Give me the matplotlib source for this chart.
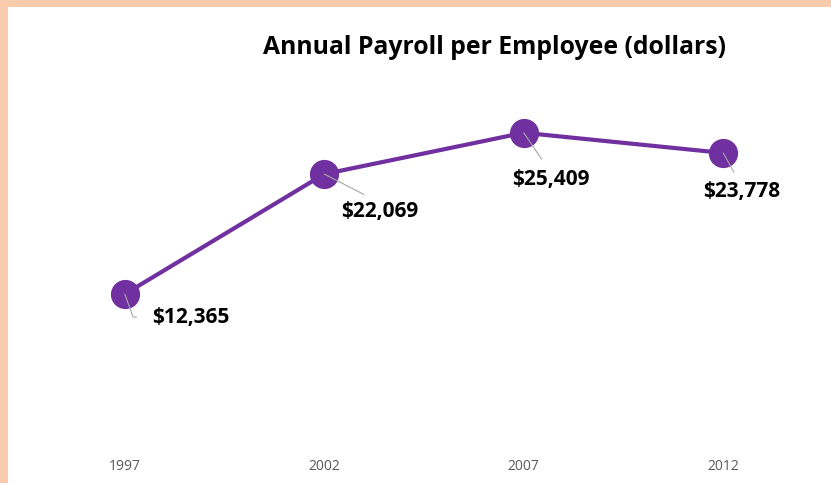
import matplotlib
matplotlib.use('Agg')
import matplotlib.pyplot as plt
from matplotlib.patches import Rectangle

# ---- data ----
years = ['1997', '2002', '2007', '2012']
payroll = [12365, 22069, 25409, 23778]
labels = ['$12,365', '$22,069', '$25,409', '$23,778']

PURPLE = '#7030A0'
PEACH = '#F8CBAD'

fig = plt.figure(figsize=(8.31, 4.83), dpi=100)
fig.patch.set_facecolor('white')

# peach frame on left and top edge
fig.add_artist(Rectangle((0, 0), 8 / 831, 1, transform=fig.transFigure,
                         facecolor=PEACH, edgecolor='none', zorder=0))
fig.add_artist(Rectangle((0, 1 - 7 / 483), 1, 7 / 483, transform=fig.transFigure,
                         facecolor=PEACH, edgecolor='none', zorder=0))

ax = fig.add_axes([25 / 831, 36 / 483, 798 / 831, 371 / 483])
x = list(range(len(years)))
ax.plot(x, payroll, color=PURPLE, lw=3, marker='o', markersize=20,
        markerfacecolor=PURPLE, markeredgecolor=PURPLE, zorder=3)

ax.set_xlim(-0.5, len(years) - 0.5)
ax.set_ylim(0, 30000)
ax.set_xticks(x)
ax.set_xticklabels(years, fontsize=10, color='#595959', family='Open Sans')
ax.set_yticks([])
ax.tick_params(axis='x', length=0, pad=9)
for s in ax.spines.values():
    s.set_visible(False)

# label offsets in pixels (text left/top) and leader attach point
offsets = [(27, -23), (17, -27), (-12, -36), (-20, -28)]
relpos = [(0, 0.5), (0.46, 1.0), (0.47, 1.0), (0.46, 1.0)]
conn = ['angle,angleA=180,angleB=110,rad=0', 'arc3', 'arc3', 'arc3']
shrink = [9, 6, 6, 5]
for i, (xv, yv) in enumerate(zip(x, payroll)):
    va = 'center' if i == 0 else 'top'
    ax.annotate(labels[i], xy=(xv, yv), xytext=offsets[i], textcoords='offset pixels',
                ha='left', va=va, fontsize=15, fontweight='bold', family='Open Sans',
                color='black', zorder=5,
                arrowprops=dict(arrowstyle='-', color='#A6A6A6', lw=0.8,
                                shrinkA=shrink[i], shrinkB=0, relpos=relpos[i],
                                connectionstyle=conn[i]))

fig.text(494 / 831, 1 - 48 / 483, 'Annual Payroll per Employee (dollars)',
         ha='center', va='center', fontsize=17.8, fontweight='bold',
         family='Open Sans', color='black')

fig.savefig('out.png', dpi=100)
